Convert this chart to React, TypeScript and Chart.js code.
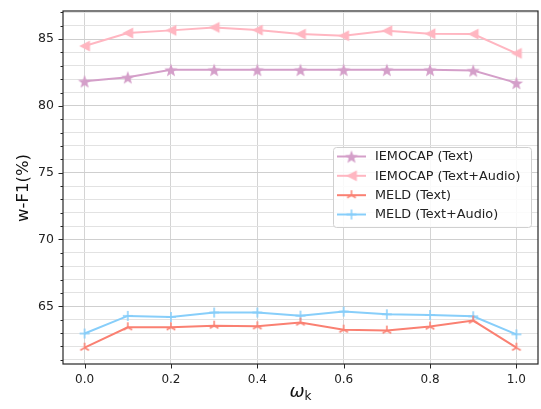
import React, { useEffect, useRef } from 'react';
import { Chart, registerables } from 'chart.js';

Chart.register(...registerables);

// ---------- data ----------
const omegaK = [0, 0.1, 0.2, 0.3, 0.4, 0.5, 0.6, 0.7, 0.8, 0.9, 1.0];
const iemocapText = [81.84, 82.14, 82.7, 82.7, 82.7, 82.7, 82.7, 82.7, 82.7, 82.65, 81.72];
const iemocapTextAudio = [84.48, 85.45, 85.65, 85.87, 85.67, 85.37, 85.25, 85.62, 85.4, 85.37, 83.93];
const meldText = [61.9, 63.43, 63.43, 63.55, 63.5, 63.78, 63.25, 63.18, 63.48, 63.93, 61.9];
const meldTextAudio = [62.96, 64.28, 64.2, 64.53, 64.53, 64.3, 64.6, 64.4, 64.35, 64.25, 62.9];
const seriesNames = ['IEMOCAP (Text)', 'IEMOCAP (Text+Audio)', 'MELD (Text)', 'MELD (Text+Audio)'];
const xTickValues = [0, 0.2, 0.4, 0.6, 0.8, 1.0];
const yTickValues = [61, 62, 63, 64, 65, 66, 67, 68, 69, 70, 71, 72, 73, 74, 75, 76, 77, 78, 79, 80, 81, 82, 83, 84, 85, 86, 87];
const yLabelEvery = 5;
const xTitle = 'ω';
const xTitleSub = 'k';
const yTitle = 'w-F1(%)';

const COLORS = ['#d49fc9', '#ffb6c1', '#fa8072', '#87cefa'];
const FONT = '"DejaVu Sans", sans-serif';

function makeCanvas(size: number, draw: (ctx: CanvasRenderingContext2D, c: number) => void) {
  const cv = document.createElement('canvas');
  cv.width = size;
  cv.height = size;
  const ctx = cv.getContext('2d')!;
  draw(ctx, size / 2);
  return cv;
}

function starMarker(color: string) {
  return makeCanvas(16, (ctx, c) => {
    const R = 7, r = 2.9;
    ctx.beginPath();
    for (let i = 0; i < 10; i++) {
      const rad = i % 2 === 0 ? R : r;
      const a = -Math.PI / 2 + (i * Math.PI) / 5;
      const px = c + rad * Math.cos(a);
      const py = c + 0.8 + rad * Math.sin(a);
      if (i === 0) ctx.moveTo(px, py); else ctx.lineTo(px, py);
    }
    ctx.closePath();
    ctx.fillStyle = color;
    ctx.fill();
  });
}

function triLeftMarker(color: string) {
  return makeCanvas(14, (ctx, c) => {
    const r = 5.4;
    ctx.beginPath();
    ctx.moveTo(c - r, c);
    ctx.lineTo(c + r, c - r);
    ctx.lineTo(c + r, c + r);
    ctx.closePath();
    ctx.fillStyle = color;
    ctx.fill();
  });
}

function triUpMarker(color: string) {
  return makeCanvas(14, (ctx, c) => {
    const r = 5;
    ctx.strokeStyle = color;
    ctx.lineWidth = 1.5;
    ctx.beginPath();
    ctx.moveTo(c, c); ctx.lineTo(c, c - r);
    ctx.moveTo(c, c); ctx.lineTo(c - r * 0.87, c + r * 0.5);
    ctx.moveTo(c, c); ctx.lineTo(c + r * 0.87, c + r * 0.5);
    ctx.stroke();
  });
}

function plusMarker(color: string) {
  return makeCanvas(14, (ctx, c) => {
    const r = 5;
    ctx.strokeStyle = color;
    ctx.lineWidth = 1.5;
    ctx.beginPath();
    ctx.moveTo(c - r, c); ctx.lineTo(c + r, c);
    ctx.moveTo(c, c - r); ctx.lineTo(c, c + r);
    ctx.stroke();
  });
}

export default function App() {
  const ref = useRef<HTMLCanvasElement | null>(null);

  useEffect(() => {
    if (!ref.current) return;
    const markers = [
      starMarker(COLORS[0]),
      triLeftMarker(COLORS[1]),
      triUpMarker(COLORS[2]),
      plusMarker(COLORS[3]),
    ];
    const allSeries = [iemocapText, iemocapTextAudio, meldText, meldTextAudio];

    const decor = {
      id: 'decor',
      afterDraw(chart: any) {
        const ctx = chart.ctx as CanvasRenderingContext2D;
        const { left, right, top, bottom } = chart.chartArea;
        const xs = chart.scales.x;
        const ys = chart.scales.y;
        ctx.save();
        // frame
        ctx.strokeStyle = '#262626';
        ctx.lineWidth = 1.2;
        ctx.strokeRect(left, top, right - left, bottom - top);
        // ticks
        ctx.lineWidth = 1;
        ctx.beginPath();
        yTickValues.forEach((v) => {
          const y = Math.round(ys.getPixelForValue(v)) + 0.5;
          const len = v % yLabelEvery === 0 ? 4.5 : 2.5;
          ctx.moveTo(left - len, y);
          ctx.lineTo(left, y);
        });
        xTickValues.forEach((v) => {
          const x = Math.round(xs.getPixelForValue(v)) + 0.5;
          ctx.moveTo(x, bottom);
          ctx.lineTo(x, bottom + 4.5);
        });
        ctx.stroke();

        // y title
        ctx.fillStyle = '#111';
        ctx.save();
        ctx.translate(24, 188);
        ctx.rotate(-Math.PI / 2);
        ctx.font = `16.5px ${FONT}`;
        ctx.textAlign = 'center';
        ctx.textBaseline = 'middle';
        ctx.fillText(yTitle, 0, 0);
        ctx.restore();

        // x title
        ctx.font = `italic 18px ${FONT}`;
        ctx.textAlign = 'left';
        ctx.textBaseline = 'alphabetic';
        const cx = (left + right) / 2;
        const wOm = ctx.measureText(xTitle).width;
        ctx.font = `12px ${FONT}`;
        const wK = ctx.measureText(xTitleSub).width;
        const startX = cx - (wOm + wK) / 2;
        ctx.font = `italic 18px ${FONT}`;
        ctx.fillText(xTitle, startX, 397);
        ctx.font = `12px ${FONT}`;
        ctx.fillText(xTitleSub, startX + wOm, 400);

        // legend
        const lx = 333, ly = 147, lw = 198, lh = 80;
        ctx.fillStyle = 'rgba(255,255,255,0.85)';
        ctx.strokeStyle = '#d0d0d0';
        ctx.lineWidth = 1;
        ctx.beginPath();
        (ctx as any).roundRect(lx + 0.5, ly + 0.5, lw, lh, 3);
        ctx.fill();
        ctx.stroke();
        const rowYs = [156.5, 175.8, 195.2, 214.5];
        ctx.font = `12.8px ${FONT}`;
        ctx.textBaseline = 'middle';
        seriesNames.forEach((name, i) => {
          const y = rowYs[i];
          ctx.strokeStyle = COLORS[i];
          ctx.lineWidth = 2;
          ctx.beginPath();
          ctx.moveTo(337, y);
          ctx.lineTo(366, y);
          ctx.stroke();
          const m = markers[i];
          ctx.drawImage(m, 351.5 - m.width / 2, y - m.height / 2);
          ctx.fillStyle = '#222';
          ctx.fillText(name, 375, y + 0.5);
        });
        ctx.restore();
      },
    };

    const chart = new Chart(ref.current, {
      type: 'line',
      data: {
        datasets: allSeries.map((vals, i) => ({
          label: seriesNames[i],
          data: omegaK.map((x, j) => ({ x, y: vals[j] })),
          borderColor: COLORS[i],
          backgroundColor: COLORS[i],
          borderWidth: 2,
          pointStyle: markers[i] as any,
          pointRadius: 5,
          tension: 0,
          fill: false,
        })),
      },
      options: {
        responsive: false,
        animation: false,
        devicePixelRatio: 1,
        layout: { padding: { top: 11, right: 3, left: 0, bottom: 0 } },
        plugins: {
          legend: { display: false },
          tooltip: { enabled: false },
          title: { display: false },
        },
        scales: {
          x: {
            type: 'linear',
            min: -0.05,
            max: 1.05,
            afterBuildTicks: (s: any) => {
              s.ticks = xTickValues.map((v) => ({ value: v }));
            },
            afterFit: (s: any) => {
              s.height = 45;
              s.paddingLeft = 0;
              s.paddingRight = 0;
            },
            grid: { color: '#d4d4d4', lineWidth: 1, drawTicks: false },
            border: { display: false },
            ticks: {
              padding: 9,
              color: '#222',
              font: { family: FONT, size: 12 },
              maxRotation: 0,
              autoSkip: false,
              callback: (v: any) => Number(v).toFixed(1),
            },
          },
          y: {
            type: 'linear',
            min: 60.68,
            max: 87.1,
            afterBuildTicks: (s: any) => {
              s.ticks = yTickValues.map((v) => ({ value: v }));
            },
            afterFit: (s: any) => {
              s.width = 63;
              s.paddingTop = 0;
              s.paddingBottom = 0;
            },
            grid: {
              color: (c: any) => (c.tick && c.tick.value % yLabelEvery === 0 ? '#cfcfcf' : '#e2e2e2'),
              lineWidth: 1,
              drawTicks: false,
            },
            border: { display: false },
            ticks: {
              padding: 9,
              color: '#222',
              font: { family: FONT, size: 12.5 },
              autoSkip: false,
              callback: (v: any) => (Number(v) % yLabelEvery === 0 ? String(v) : ''),
            },
          },
        },
      },
      plugins: [decor],
    });
    return () => chart.destroy();
  }, []);

  return (
    <div style={{ position: 'absolute', left: 0, top: 0, width: 541, height: 409, overflow: 'hidden', background: '#fff' }}>
      <canvas ref={ref} width={545} height={409} style={{ display: 'block' }} />
    </div>
  );
}
